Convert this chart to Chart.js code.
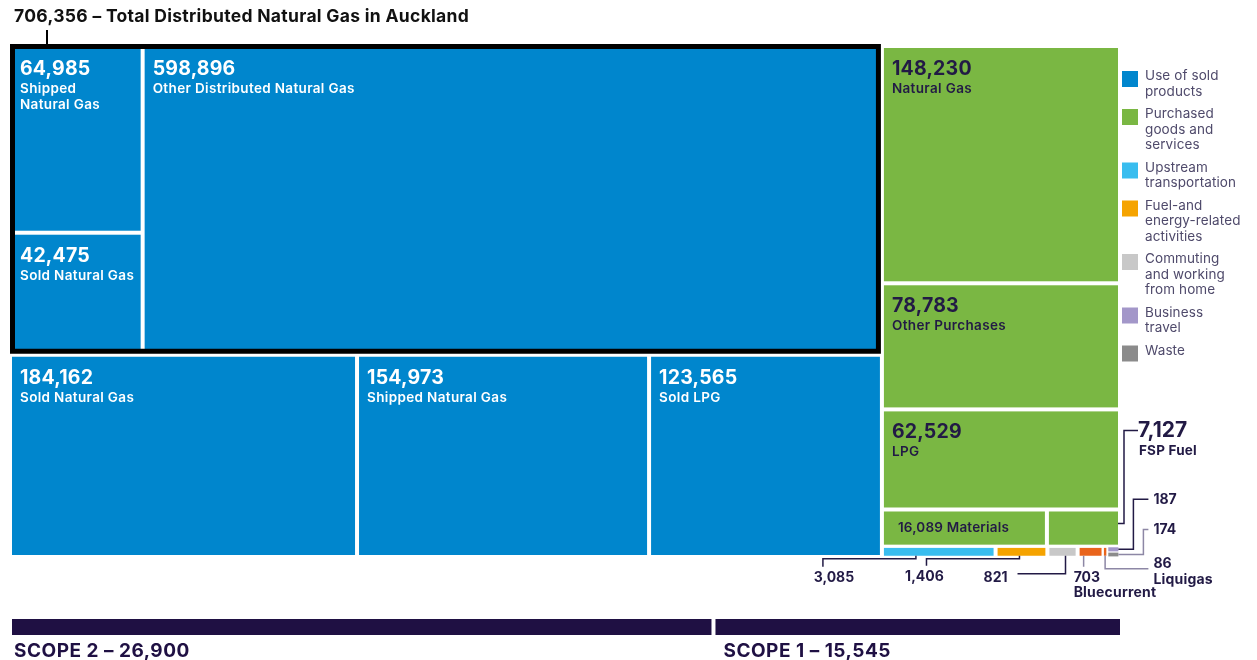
<!DOCTYPE html>
<html>
<head>
<meta charset="utf-8">
<script src="https://cdn.jsdelivr.net/npm/chart.js@4.4.1/dist/chart.umd.min.js"></script>
<style>
  html, body { margin: 0; background: #fff; }
  canvas { display: block; }
</style>
</head>
<body>
<canvas id="emissionsTree" width="1257" height="660"></canvas>
<script>
// --- data ---
const distributedValues = [64985, 42475, 598896];
const distributedNames = ["Shipped\nNatural Gas", "Sold Natural Gas", "Other Distributed Natural Gas"];
const soldValues = [184162, 154973, 123565];
const soldNames = ["Sold Natural Gas", "Shipped Natural Gas", "Sold LPG"];
const purchasedValues = [148230, 78783, 62529, 16089, 7127];
const purchasedNames = ["Natural Gas", "Other Purchases", "LPG", "Materials", "FSP Fuel"];
const minorValues = [3085, 1406, 821, 703, 86, 187, 174];
const minorNames = ["", "", "", "Bluecurrent", "Liquigas", "", ""];
const minorCategories = ["upstream", "fuel", "commuting", "supplier", "supplier", "travel", "waste"];
const scopeNames = ["SCOPE 2", "SCOPE 1"];
const scopeValues = [26900, 15545];
const legendKeys = ["sold", "purchased", "upstream", "fuel", "commuting", "travel", "waste"];
const legendNames = [
  "Use of sold\nproducts",
  "Purchased\ngoods and\nservices",
  "Upstream\ntransportation",
  "Fuel-and\nenergy-related\nactivities",
  "Commuting\nand working\nfrom home",
  "Business\ntravel",
  "Waste",
];

const colors = {
  sold: "#0086cd",
  purchased: "#7ab743",
  upstream: "#39bdef",
  fuel: "#f5a300",
  commuting: "#c8c8c8",
  supplier: "#e9641c",
  travel: "#a397c9",
  waste: "#8b8b8b",
};
const navy = "#221a45";
const softLine = "#8d87a5";
const font = "Inter, 'Open Sans', sans-serif";

const fmt = (v) => v.toLocaleString("en-US");
const totalDistributed = distributedValues.reduce((s, v) => s + v, 0);

const leaf = (value, name, cat, mode, key) => ({ value, name, cat, mode, key });

const tree = {
  dir: "h",
  children: [
    {
      dir: "v",
      children: [
        {
          dir: "h",
          key: "distributed",
          children: [
            {
              dir: "v",
              children: [
                leaf(distributedValues[0], distributedNames[0], "sold", "stack"),
                leaf(distributedValues[1], distributedNames[1], "sold", "stack"),
              ],
            },
            leaf(distributedValues[2], distributedNames[2], "sold", "stack"),
          ],
        },
        { dir: "h", children: soldValues.map((v, i) => leaf(v, soldNames[i], "sold", "stack")) },
      ],
    },
    {
      dir: "v",
      children: [
        leaf(purchasedValues[0], purchasedNames[0], "purchased", "stack"),
        leaf(purchasedValues[1], purchasedNames[1], "purchased", "stack"),
        leaf(purchasedValues[2], purchasedNames[2], "purchased", "stack"),
        {
          dir: "h",
          children: [
            leaf(purchasedValues[3], purchasedNames[3], "purchased", "inline"),
            leaf(purchasedValues[4], purchasedNames[4], "purchased", "none", "m4"),
          ],
        },
        {
          dir: "h",
          children: [
            ...minorValues.slice(0, 5).map((v, i) => leaf(v, minorNames[i], minorCategories[i], "none", "n" + i)),
            {
              dir: "v",
              children: [5, 6].map((i) => leaf(minorValues[i], minorNames[i], minorCategories[i], "none", "n" + i)),
            },
          ],
        },
      ],
    },
  ],
};

const total = (node) => (node.children ? node.children.reduce((s, c) => s + total(c), 0) : node.value);

// slice-and-dice layout in unit space (0..1 on both axes)
const cells = [];
const groups = {};
const layout = (node, x0, y0, x1, y1) => {
  if (node.key && node.children) groups[node.key] = { x0, y0, x1, y1 };
  if (!node.children) {
    cells.push({ ...node, x0, y0, x1, y1 });
    return;
  }
  const sum = total(node);
  let pos = node.dir === "h" ? x0 : y0;
  node.children.forEach((child) => {
    const f = total(child) / sum;
    if (node.dir === "h") {
      const end = pos + (x1 - x0) * f;
      layout(child, pos, y0, end, y1);
      pos = end;
    } else {
      const end = pos + (y1 - y0) * f;
      layout(child, x0, pos, x1, end);
      pos = end;
    }
  });
};
layout(tree, 0, 0, 1, 1);

const scopeTotal = scopeValues.reduce((s, v) => s + v, 0);

const drawText = (ctx, str, x, y, size, weight, color, align = "left", spacing = 0) => {
  ctx.font = `${weight} ${size}px ${font}`;
  ctx.letterSpacing = `${spacing}px`;
  ctx.fillStyle = color;
  ctx.textAlign = align;
  ctx.textBaseline = "middle";
  ctx.fillText(str, x, y);
  ctx.letterSpacing = "0px";
};

const drawPath = (ctx, pts, color) => {
  ctx.beginPath();
  ctx.strokeStyle = color;
  ctx.lineWidth = 1.5;
  pts.forEach(([px, py], i) => (i ? ctx.lineTo(px, py) : ctx.moveTo(px, py)));
  ctx.stroke();
};

const treemapPlugin = {
  id: "treemap",
  afterDraw(chart) {
    const { ctx, chartArea, scales } = chart;
    const sx = (v) => scales.x.getPixelForValue(v);
    const sy = (v) => scales.y.getPixelForValue(v);
    const rects = {};

    ctx.save();
    cells.forEach((c) => {
      const px0 = sx(c.x0), px1 = sx(c.x1), py0 = sy(c.y0), py1 = sy(c.y1);
      const ix = Math.min(2, (px1 - px0) * 0.12);
      const iy = Math.min(2, (py1 - py0) * 0.12);
      const r = { x0: px0 + ix, y0: py0 + iy, x1: px1 - ix, y1: py1 - iy };
      r.cx = (r.x0 + r.x1) / 2;
      r.cy = (r.y0 + r.y1) / 2;
      if (c.key) rects[c.key] = r;
      ctx.fillStyle = colors[c.cat];
      ctx.fillRect(r.x0, r.y0, r.x1 - r.x0, r.y1 - r.y0);

      const tc = c.cat === "sold" ? "#ffffff" : navy;
      if (c.mode === "stack") {
        drawText(ctx, fmt(c.value), r.x0 + 8, r.y0 + 21, 19.5, 700, tc, "left", 0.2);
        c.name.split("\n").forEach((line, i) =>
          drawText(ctx, line, r.x0 + 8, r.y0 + 41 + i * 16, 13.5, 600, tc, "left", 0.35));
      } else if (c.mode === "inline") {
        drawText(ctx, `${fmt(c.value)} ${c.name}`, r.x0 + 14, r.cy, 13.5, 600, tc, "left", 0.2);
      }
    });

    // outline of the distributed-gas block
    const g = groups.distributed;
    const gx0 = sx(g.x0), gx1 = sx(g.x1), gy0 = sy(g.y0), gy1 = sy(g.y1);
    ctx.strokeStyle = "#000";
    ctx.lineWidth = 5;
    ctx.strokeRect(gx0 + 2.5, gy0 + 0.5, gx1 - gx0 - 6, gy1 - gy0 - 4);
    ctx.lineWidth = 2;
    ctx.beginPath();
    ctx.moveTo(gx0 + 37, gy0 - 16);
    ctx.lineTo(gx0 + 37, gy0 - 2);
    ctx.stroke();
    drawText(ctx, `${fmt(totalDistributed)} – Total Distributed Natural Gas in Auckland`, gx0 + 4, gy0 - 29, 17.5, 700, "#111", "left", 0.3);

    // callouts for the small cells
    let r = rects.m4;
    drawPath(ctx, [[r.x1, r.y0 + 12], [r.x1 + 6, r.y0 + 12], [r.x1 + 6, r.y0 - 81], [r.x1 + 20, r.y0 - 81]], navy);
    drawText(ctx, fmt(purchasedValues[4]), r.x1 + 20, r.y0 - 81, 21, 700, navy);
    drawText(ctx, purchasedNames[4], r.x1 + 21, r.y0 - 61, 13.5, 700, navy, "left", 0.2);

    r = rects.n5;
    drawPath(ctx, [[r.x1, r.cy], [r.x1 + 15, r.cy], [r.x1 + 15, r.cy - 50], [r.x1 + 30, r.cy - 50]], navy);
    drawText(ctx, fmt(minorValues[5]), r.x1 + 35, r.cy - 50, 14, 700, navy);

    r = rects.n6;
    drawPath(ctx, [[r.x1, r.cy], [r.x1 + 25, r.cy], [r.x1 + 25, r.cy - 25], [r.x1 + 30, r.cy - 25]], softLine);
    drawText(ctx, fmt(minorValues[6]), r.x1 + 35, r.cy - 25, 14, 700, navy);

    const endX = rects.n6.x1 + 30;
    r = rects.n4;
    drawPath(ctx, [[r.cx, r.y1], [r.cx, r.y1 + 13], [endX, r.y1 + 13]], softLine);
    drawText(ctx, fmt(minorValues[4]), endX + 5, r.y1 + 8, 14, 700, navy);
    drawText(ctx, minorNames[4], endX + 5, r.y1 + 24, 14, 700, navy, "left", 0.2);

    r = rects.n3;
    drawPath(ctx, [[r.x0 + 4, r.y1], [r.x0 + 4, r.y1 + 11]], softLine);
    drawText(ctx, fmt(minorValues[3]), r.x0 - 6, r.y1 + 22, 14, 700, navy);
    drawText(ctx, minorNames[3], r.x0 - 6, r.y1 + 37, 14, 700, navy, "left", 0.2);

    r = rects.n2;
    drawPath(ctx, [[r.cx + 3, r.y1], [r.cx + 3, r.y1 + 18], [r.cx - 45, r.y1 + 18]], navy);
    drawText(ctx, fmt(minorValues[2]), r.cx - 55, r.y1 + 22, 14, 700, navy, "right");

    r = rects.n1;
    drawPath(ctx, [[r.cx - 2, r.y1], [r.cx - 2, r.y1 + 3], [r.cx - 95, r.y1 + 3], [r.cx - 95, r.y1 + 10]], navy);
    drawText(ctx, fmt(minorValues[1]), r.cx - 97, r.y1 + 21, 14, 700, navy, "center");

    r = rects.n0;
    drawPath(ctx, [[r.x0 + 32, r.y1], [r.x0 + 32, r.y1 + 3], [r.x0 - 61, r.y1 + 3], [r.x0 - 61, r.y1 + 11]], navy);
    drawText(ctx, fmt(minorValues[0]), r.x0 - 50, r.y1 + 22, 14, 700, navy, "center");

    // legend
    let ly = chartArea.top + 25;
    const lx = chartArea.right + 2;
    legendKeys.forEach((k, i) => {
      ctx.fillStyle = colors[k];
      ctx.fillRect(lx, ly, 16, 16);
      const lines = legendNames[i].split("\n");
      lines.forEach((line, j) => drawText(ctx, line, lx + 23, ly + 5 + j * 15.5, 13.5, 400, "#4f4a6b", "left", 0.1));
      ly += lines.length * 15.5 + 7;
    });

    // scope bars
    let acc = 0;
    const barTop = chartArea.bottom + 62;
    scopeValues.forEach((v, i) => {
      const bx0 = sx(acc / scopeTotal) + 2;
      acc += v;
      const bx1 = sx(acc / scopeTotal) - (i ? 0 : 2);
      ctx.fillStyle = "#1f1043";
      ctx.fillRect(bx0, barTop, bx1 - bx0, 16);
      drawText(ctx, `${scopeNames[i]} – ${fmt(v)}`, bx0 + (i ? 8 : 2), barTop + 32, 19, 700, "#1f1043", "left", 0.5);
    });
    ctx.restore();
  },
};

new Chart(document.getElementById("emissionsTree"), {
  type: "scatter",
  data: { datasets: [{ data: [] }] },
  options: {
    responsive: false,
    animation: false,
    layout: { padding: { left: 10, top: 46, right: 137, bottom: 103 } },
    scales: {
      x: { type: "linear", min: 0, max: 1, display: false },
      y: { type: "linear", min: 0, max: 1, reverse: true, display: false },
    },
    plugins: { legend: { display: false }, tooltip: { enabled: false } },
  },
  plugins: [treemapPlugin],
});
</script>
</body>
</html>
